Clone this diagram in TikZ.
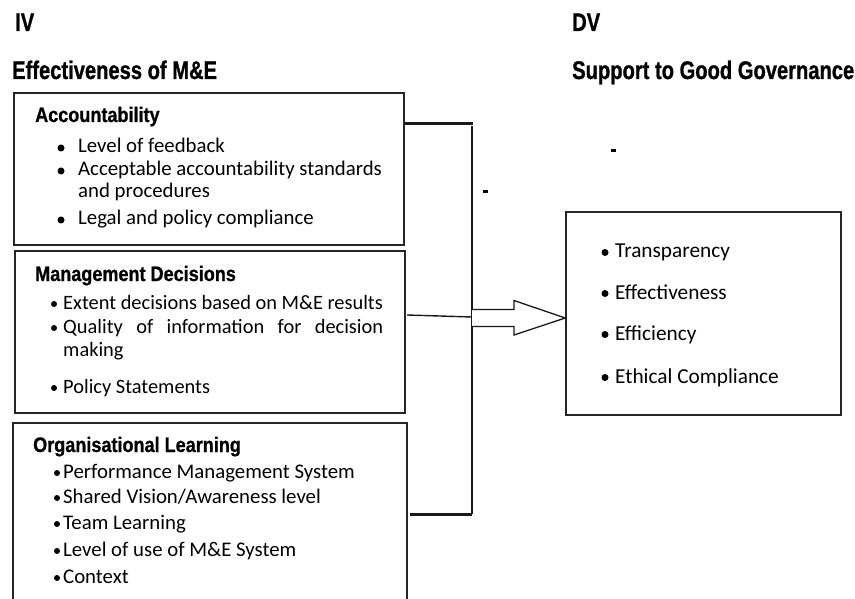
\documentclass[tikz,border=0pt]{standalone}
\usepackage{fontspec}
\setmainfont{Carlito}
\newfontfamily\titlefont[FakeStretch=0.79,FakeBold=0.9]{Liberation Sans}
\newfontfamily\boxtitlefont[FakeStretch=0.86,FakeBold=0.8]{Liberation Sans}
\usetikzlibrary{calc}

\begin{document}
\begin{tikzpicture}[x=1pt,y=-1pt,
  frame/.style={draw=black!85,line width=1.5pt},
  bracket/.style={draw=black!90,line width=1.4pt},
  busline/.style={draw=black!90,line width=3pt},
  title/.style={anchor=base west,inner sep=0pt,font=\titlefont\bfseries\fontsize{25.5}{30}\selectfont},
  boxtitle/.style={anchor=base west,inner sep=0pt,font=\boxtitlefont\bfseries\fontsize{21}{25}\selectfont},
  item/.style={anchor=base west,inner sep=0pt,font=\fontsize{20.8}{24}\selectfont},
  mitem/.style={anchor=base west,inner sep=0pt,font=\fontsize{20.4}{24}\selectfont},
  ritem/.style={anchor=base west,inner sep=0pt,font=\fontsize{21.3}{25}\selectfont},
  dot/.style={circle,fill=black,inner sep=0pt,minimum size=#1},
  dot/.default=7pt,
]
\useasboundingbox (0,0) rectangle (855,599);

% column headings
\node[title] (iv) at (15,31) {IV};
\node[title] (ivname) at (12,79) {Effectiveness of M\&E};
\node[title] (dvlab) at (572,31) {DV};
\node[title] (dvname) at (572,79) {Support to Good Governance};

% independent variable boxes
\node[frame,minimum width=390pt,minimum height=152pt] (acc) at (209,169) {};
\node[frame,minimum width=390pt,minimum height=162pt] (mgmt) at (210,332) {};
\coordinate (orgtl) at (13,423);
\coordinate (orgtr) at (407,423);
\draw[frame] (orgtl |- 0,603) -- (orgtl) -- (orgtr) -- (orgtr |- 0,603);

% Accountability
\node[boxtitle] (acch) at (35,122) {Accountability};
\node[dot] (a1d) at (61,148) {};
\node[item] (a1) at (78,153) {Level of feedback};
\node[dot] (a2d) at (61,171) {};
\node[item] (a2) at (78,176) {Acceptable accountability standards};
\node[item] (a2b) at (78,198) {and procedures};
\node[dot] (a3d) at (61,220) {};
\node[item] (a3) at (78,225) {Legal and policy compliance};

% Management Decisions
\node[boxtitle] (mgmth) at (35,281) {Management Decisions};
\node[dot=6pt] (m1d) at (54,304) {};
\node[mitem] (m1) at (63,309) {Extent decisions based on M\&E results};
\node[dot=6pt] (m2d) at (54,328) {};
\node[mitem] (m2) at (63,333) {\makebox[320pt][s]{Quality of information for decision}};
\node[mitem] (m2b) at (63,356) {making};
\node[dot=6pt] (m3d) at (54,388) {};
\node[mitem] (m3) at (63,393) {Policy Statements};

% Organisational Learning
\node[boxtitle] (orgh) at (33,452) {Organisational Learning};
\node[dot=6pt] (o1d) at (57,473) {};
\node[item] (o1) at (63,478) {Performance Management System};
\node[dot=6pt] (o2d) at (57,498) {};
\node[item] (o2) at (63,503) {Shared Vision/Awareness level};
\node[dot=6pt] (o3d) at (57,524) {};
\node[item] (o3) at (63,529) {Team Learning};
\node[dot=6pt] (o4d) at (57,551) {};
\node[item] (o4) at (63,556) {Level of use of M\&E System};
\node[dot=6pt] (o5d) at (57,578) {};
\node[item] (o5) at (63,583) {Context};

% dependent variable box
\node[frame,minimum width=275pt,minimum height=203pt] (gg) at (703.5,313.5) {};
\node[dot] (g1d) at (605,252.5) {};
\node[ritem] (g1) at (615,258) {Transparency};
\node[dot] (g2d) at (605,293.5) {};
\node[ritem] (g2) at (615,299) {Effectiveness};
\node[dot] (g3d) at (605,334.5) {};
\node[ritem] (g3) at (615,340) {Efficiency};
\node[dot] (g4d) at (605,377.5) {};
\node[ritem] (g4) at (615,383) {Ethical Compliance};

% bracket joining the three boxes
\coordinate (bustop) at (473,124);
\coordinate (busbot) at (472,514);
\coordinate (axis) at (472,318);
\coordinate (mgmtout) at (407,315);
\coordinate (orgout) at (410,514);
\draw[busline] (acc.east |- bustop) -- (bustop);
\draw[bracket] (busbot |- 0,126) -- (busbot);
\draw[bracket] (mgmtout) -- (busbot |- 0,317);
\draw[busline] (orgout) -- (busbot);

% block arrow into the dependent variable box
\draw[bracket,line width=1.3pt,fill=white,line join=miter]
  ($(axis)+(0,-8.5)$) -- ++(42,0) -- ++(0,-9) -- (gg.west |- axis)
  -- ($(axis)+(42,17)$) -- ++(0,-8.5) -- ($(axis)+(0,8.5)$);

% stray marks
\fill (483,190.5) rectangle (488,193.5);
\fill (611,149.5) rectangle (616,152.5);
\end{tikzpicture}
\end{document}
